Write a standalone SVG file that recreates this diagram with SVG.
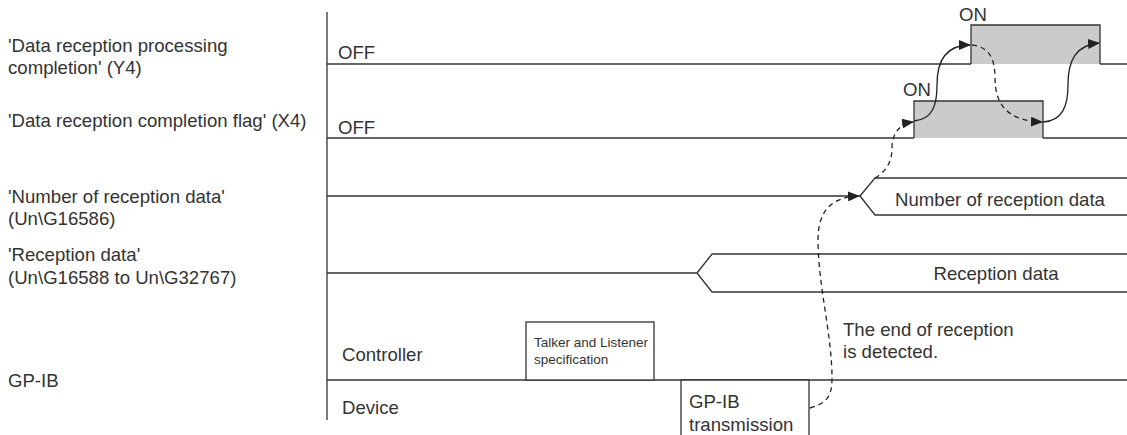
<svg xmlns="http://www.w3.org/2000/svg" width="1127" height="435" viewBox="0 0 1127 435">
<style>
text{font-family:"Liberation Sans",Arial,sans-serif;font-size:18.6px;fill:#333}
.sm{font-size:13.5px}
.ln{stroke:#333;stroke-width:1.3;fill:none}
.pulse{stroke:#333;stroke-width:1.3;fill:#cbcbcb}
.box{stroke:#333;stroke-width:1.3;fill:#fff}
.solid{stroke:#222;stroke-width:1.3;fill:none;marker-end:url(#ah)}
.dash{stroke:#222;stroke-width:1.3;fill:none;stroke-dasharray:5 4;marker-end:url(#ah)}
</style>
<defs>
<marker id="ah" viewBox="0 0 12 10" refX="11" refY="5" markerWidth="12" markerHeight="10" markerUnits="userSpaceOnUse" orient="auto">
<path d="M0,0 L12,5 L0,10 Z" fill="#222"/>
</marker>
</defs>
<g id="labels">
<text x="8" y="52">'Data reception processing</text>
<text x="8" y="74">completion' (Y4)</text>
<text x="8" y="127">'Data reception completion flag' (X4)</text>
<text x="8" y="203">'Number of reception data'</text>
<text x="8" y="225">(Un\G16586)</text>
<text x="8" y="261">'Reception data'</text>
<text x="8" y="284">(Un\G16588 to Un\G32767)</text>
<text x="8" y="387">GP-IB</text>
</g>
<g id="axis"><path class="ln" d="M327,12 V420"/></g>
<g id="y4">
<path class="ln" d="M327,64 H971 M1100,64 H1127"/>
<path class="pulse" d="M971,64 V25 H1100 V64"/>
<text x="338" y="59">OFF</text>
<text x="959" y="21">ON</text>
</g>
<g id="x4">
<path class="ln" d="M327,138 H914 M1043,138 H1127"/>
<path class="pulse" d="M914,138 V101 H1043 V138"/>
<text x="338" y="134">OFF</text>
<text x="903" y="96">ON</text>
</g>
<g id="numdata">
<path class="ln" d="M327,196 H860 L875,178 H1127 M860,196 L875,215 H1127"/>
<text x="1000" y="206" text-anchor="middle">Number of reception data</text>
</g>
<g id="recdata">
<path class="ln" d="M327,273 H697 L712,254 H1127 M697,273 L712,292 H1127"/>
<text x="996" y="280" text-anchor="middle">Reception data</text>
</g>
<g id="gpib">
<path class="ln" d="M327,380 H1127"/>
<text x="342" y="361">Controller</text>
<text x="342" y="414">Device</text>
</g>
<g id="talker">
<rect class="box" x="526" y="322" width="128" height="58"/>
<text class="sm" x="534" y="347">Talker and Listener</text>
<text class="sm" x="534" y="364">specification</text>
</g>
<g id="transmission">
<path class="box" d="M681,436 V380 H809 V436"/>
<text x="689" y="408">GP-IB</text>
<text x="689" y="431">transmission</text>
</g>
<g id="note">
<text x="843" y="336">The end of reception</text>
<text x="843" y="358">is detected.</text>
</g>
<g id="connectors">
<path class="dash" d="M810,408 C828,403 832,395 832,378 C832,335 818,285 818,240 C818,210 832,197 859,196"/>
<path class="dash" d="M875,178 C888,170 892,160 892,148 C892,134 899,124 913,122"/>
<path class="solid" d="M914,121 C933,119 937,105 937,85 C937,60 946,45 970,45"/>
<path class="dash" d="M972,45 C990,47 995,60 995,78 C995,105 1008,121 1042,122"/>
<path class="solid" d="M1043,122 C1063,121 1068,105 1068,85 C1068,60 1076,45 1099,43"/>
</g>
</svg>
